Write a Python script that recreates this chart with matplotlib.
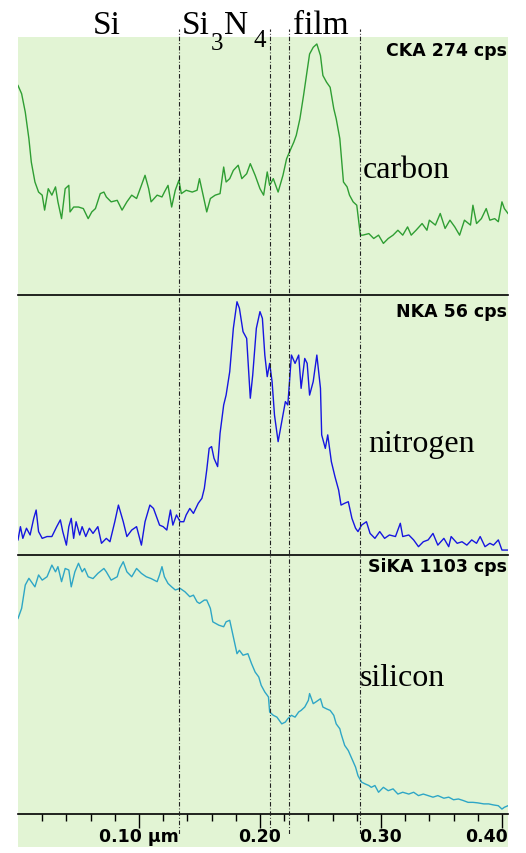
import matplotlib
matplotlib.use("Agg")
import matplotlib.pyplot as plt
from matplotlib.patches import Rectangle
import matplotlib.transforms as mtransforms

# depth (um) and intensity (% of full scale)
c_depth = [0.000, 0.003, 0.006, 0.009, 0.011, 0.014, 0.017, 0.020, 0.022, 0.025,
           0.028, 0.031, 0.033, 0.036, 0.039, 0.042, 0.043, 0.046, 0.050, 0.054,
           0.058, 0.061, 0.064, 0.068, 0.071, 0.073, 0.077, 0.082, 0.086, 0.090,
           0.094, 0.098, 0.102, 0.105, 0.108, 0.110, 0.115, 0.119, 0.121, 0.124,
           0.127, 0.130, 0.133, 0.135, 0.139, 0.144, 0.148, 0.150, 0.153, 0.156,
           0.159, 0.163, 0.167, 0.170, 0.172, 0.175, 0.178, 0.182, 0.185, 0.189,
           0.192, 0.196, 0.200, 0.203, 0.206, 0.208, 0.211, 0.215, 0.219, 0.222,
           0.225, 0.228, 0.230, 0.233, 0.236, 0.239, 0.241, 0.244, 0.247, 0.250,
           0.252, 0.255, 0.258, 0.261, 0.263, 0.266, 0.269, 0.272, 0.274, 0.277,
           0.280, 0.283, 0.285, 0.290, 0.294, 0.298, 0.302, 0.306, 0.310, 0.314,
           0.318, 0.322, 0.325, 0.329, 0.334, 0.338, 0.340, 0.345, 0.349, 0.353,
           0.357, 0.361, 0.365, 0.369, 0.374, 0.376, 0.379, 0.383, 0.387, 0.390,
           0.394, 0.397, 0.400, 0.402, 0.405]
carbon = [81.2, 78.0, 70.9, 60.6, 51.5, 43.8, 39.9, 38.7, 32.9, 41.2,
          38.7, 41.9, 36.1, 29.6, 41.2, 42.5, 32.2, 34.1, 34.1, 33.5,
          29.6, 32.2, 33.5, 39.3, 39.9, 38.0, 36.1, 36.7, 32.9, 36.1,
          38.7, 37.4, 42.5, 46.4, 41.2, 36.1, 38.7, 38.0, 39.9, 42.5,
          34.1, 40.6, 44.5, 39.3, 40.6, 39.9, 40.6, 45.1, 38.7, 32.2,
          37.4, 38.7, 39.3, 49.6, 43.8, 45.1, 48.3, 50.3, 45.1, 47.0,
          50.9, 46.4, 41.2, 38.7, 47.7, 42.5, 45.1, 39.9, 46.4, 52.8,
          56.1, 59.3, 61.9, 68.3, 77.3, 87.0, 93.4, 96.0, 97.3, 92.8,
          85.1, 82.5, 80.5, 72.2, 68.3, 60.6, 43.8, 41.9, 38.7, 36.1,
          34.8, 23.2, 23.2, 23.8, 21.9, 23.2, 20.0, 21.9, 23.2, 25.1,
          23.2, 26.4, 23.2, 25.1, 27.7, 25.1, 29.0, 27.1, 31.6, 25.8,
          29.0, 26.4, 23.2, 29.0, 27.1, 34.8, 27.7, 29.6, 33.5, 29.0,
          29.6, 28.4, 36.1, 33.5, 31.6]

n_depth = [0.000, 0.002, 0.004, 0.007, 0.010, 0.013, 0.015, 0.017, 0.020, 0.024,
           0.028, 0.032, 0.035, 0.037, 0.040, 0.042, 0.044, 0.046, 0.048, 0.051,
           0.053, 0.056, 0.059, 0.062, 0.066, 0.069, 0.073, 0.076, 0.080, 0.083,
           0.087, 0.090, 0.094, 0.098, 0.102, 0.105, 0.109, 0.112, 0.115, 0.117,
           0.120, 0.123, 0.126, 0.128, 0.131, 0.134, 0.137, 0.139, 0.142, 0.145,
           0.149, 0.152, 0.154, 0.156, 0.158, 0.160, 0.162, 0.165, 0.167, 0.170,
           0.172, 0.175, 0.178, 0.181, 0.183, 0.186, 0.189, 0.192, 0.194, 0.197,
           0.200, 0.202, 0.204, 0.206, 0.208, 0.210, 0.212, 0.215, 0.218, 0.221,
           0.223, 0.226, 0.229, 0.232, 0.234, 0.237, 0.239, 0.241, 0.244, 0.247,
           0.250, 0.251, 0.254, 0.256, 0.259, 0.262, 0.265, 0.267, 0.270, 0.273,
           0.276, 0.279, 0.281, 0.284, 0.288, 0.291, 0.295, 0.299, 0.303, 0.307,
           0.312, 0.316, 0.318, 0.323, 0.327, 0.331, 0.335, 0.339, 0.343, 0.347,
           0.352, 0.356, 0.358, 0.363, 0.367, 0.371, 0.375, 0.379, 0.382, 0.386,
           0.390, 0.393, 0.397, 0.400, 0.405]
nitrogen = [5.8, 10.9, 6.4, 10.3, 7.7, 14.1, 17.3, 9.0, 6.4, 7.1,
            7.1, 10.9, 13.5, 9.0, 3.8, 10.9, 14.1, 6.4, 12.8, 7.7,
            10.9, 7.1, 10.3, 8.3, 10.9, 4.5, 6.4, 5.1, 12.8, 19.2,
            12.8, 7.1, 9.6, 10.9, 3.8, 12.8, 19.2, 17.9, 14.1, 11.5,
            10.9, 9.6, 17.3, 11.5, 15.4, 12.8, 12.8, 15.4, 17.9, 16.0,
            19.9, 21.8, 25.6, 32.7, 41.0, 41.7, 37.2, 34.0, 46.8, 57.7,
            61.5, 70.5, 87.2, 97.4, 94.9, 85.9, 83.3, 60.3, 69.2, 87.2,
            93.6, 91.0, 76.9, 68.6, 73.7, 66.7, 53.8, 43.6, 51.3, 59.0,
            57.7, 76.9, 73.7, 76.9, 64.1, 75.6, 73.7, 61.5, 66.7, 76.9,
            64.1, 46.2, 41.0, 46.2, 35.9, 30.1, 25.0, 19.2, 19.9, 20.5,
            14.1, 10.3, 9.0, 11.5, 12.8, 8.3, 6.4, 9.0, 6.4, 7.7,
            7.1, 12.2, 7.1, 7.7, 5.8, 3.2, 5.1, 5.8, 8.3, 3.8,
            6.4, 3.2, 7.1, 4.5, 5.1, 3.8, 5.8, 4.5, 7.1, 3.2,
            4.5, 3.8, 5.8, 1.9, 1.9]

si_depth = [0.000, 0.003, 0.006, 0.009, 0.011, 0.014, 0.017, 0.020, 0.024, 0.028,
            0.031, 0.033, 0.036, 0.039, 0.042, 0.044, 0.047, 0.050, 0.053, 0.055,
            0.058, 0.062, 0.066, 0.071, 0.073, 0.077, 0.082, 0.084, 0.087, 0.090,
            0.094, 0.098, 0.102, 0.106, 0.110, 0.115, 0.117, 0.119, 0.121, 0.124,
            0.127, 0.130, 0.134, 0.138, 0.142, 0.145, 0.148, 0.150, 0.154, 0.156,
            0.159, 0.161, 0.166, 0.170, 0.172, 0.175, 0.178, 0.181, 0.183, 0.186,
            0.190, 0.193, 0.196, 0.199, 0.201, 0.204, 0.207, 0.208, 0.211, 0.214,
            0.218, 0.221, 0.223, 0.226, 0.229, 0.232, 0.234, 0.237, 0.240, 0.241,
            0.244, 0.246, 0.250, 0.252, 0.255, 0.258, 0.261, 0.263, 0.266, 0.267,
            0.270, 0.273, 0.276, 0.279, 0.281, 0.284, 0.287, 0.290, 0.292, 0.295,
            0.298, 0.302, 0.306, 0.310, 0.314, 0.318, 0.323, 0.327, 0.331, 0.335,
            0.339, 0.343, 0.347, 0.352, 0.356, 0.360, 0.364, 0.368, 0.372, 0.376,
            0.380, 0.385, 0.389, 0.393, 0.397, 0.400, 0.402, 0.405]
silicon = [75.5, 79.4, 88.4, 91.0, 89.7, 87.7, 92.3, 90.3, 91.6, 96.1,
           93.5, 95.5, 89.7, 94.8, 94.2, 87.7, 93.5, 96.8, 93.5, 94.8,
           91.6, 90.9, 92.9, 94.8, 93.5, 90.3, 91.6, 94.8, 97.4, 93.5,
           91.6, 94.8, 92.9, 91.6, 90.9, 89.7, 92.3, 95.5, 91.6, 89.0,
           87.7, 86.5, 87.1, 85.8, 83.9, 84.5, 81.9, 81.3, 82.6, 82.6,
           79.4, 74.2, 72.9, 72.3, 74.2, 74.8, 68.4, 61.9, 63.2, 61.3,
           61.9, 58.1, 54.8, 52.9, 49.7, 47.1, 45.2, 39.4, 38.1, 37.4,
           34.8, 35.5, 36.8, 38.1, 37.4, 39.4, 40.0, 41.3, 43.9, 46.5,
           42.6, 43.2, 44.5, 41.3, 40.6, 40.0, 38.1, 34.8, 32.9, 31.0,
           26.5, 24.5, 21.3, 18.1, 14.8, 12.3, 11.6, 11.0, 10.3, 11.0,
           8.4, 10.3, 9.0, 9.7, 7.7, 8.4, 7.7, 8.4, 7.1, 7.7,
           7.1, 6.5, 7.1, 6.1, 6.5, 5.5, 5.8, 5.2, 4.5, 4.5,
           4.3, 3.9, 3.9, 3.5, 3.2, 1.9, 2.6, 3.2]

panel_names = ["CKA 274 cps", "NKA 56 cps", "SiKA 1103 cps"]
element_names = ["carbon", "nitrogen", "silicon"]
colors = ["#2f9e33", "#1616e0", "#2ea6c6"]
boundaries = [0.133, 0.208, 0.224, 0.283]  # layer interfaces (um)
tick_vals = [0.10, 0.20, 0.30, 0.40]
tick_text = ["0.10 \u00b5m", "0.20", "0.30", "0.40"]

W, H = 526, 854
fig = plt.figure(figsize=(W / 100, H / 100), dpi=100)
fig.patch.set_facecolor("white")

# green background box, behind everything
fig.patches.append(Rectangle((18 / W, 1 - 848 / H), 490 / W, 810 / H,
                             transform=fig.transFigure, facecolor="#e2f4d4",
                             edgecolor="none", zorder=-10))

xmax = 0.405
tops = [38, 296, 556]
bots = [296, 556, 815]
series = [(c_depth, carbon), (n_depth, nitrogen), (si_depth, silicon)]
axes = []
for i in range(3):
    ax = fig.add_axes([18 / W, 1 - bots[i] / H, 490 / W, (bots[i] - tops[i]) / H])
    ax.set_facecolor("none")
    ax.plot(series[i][0], series[i][1], color=colors[i], lw=1.0)
    ax.set_xlim(0, xmax)
    ax.set_ylim(0, 100)
    for s in ["top", "left", "right"]:
        ax.spines[s].set_visible(False)
    ax.spines["bottom"].set_linewidth(1.2)
    ax.set_yticks([])
    ax.set_xticks([])
    axes.append(ax)

# ticks on the bottom panel
ax3 = axes[2]
ax3.set_xticks(tick_vals)
ax3.set_xticks([0.02 * k for k in range(1, 21) if k % 5 != 0], minor=True)
ax3.set_xticklabels([])
ax3.tick_params(axis="x", which="major", direction="out", length=10, width=1.0)
ax3.tick_params(axis="x", which="minor", direction="out", length=5, width=1.0)

trans = mtransforms.blended_transform_factory(ax3.transData, fig.transFigure)
for v, t in zip(tick_vals, tick_text):
    if v == tick_vals[-1]:
        ax3.text(xmax, 1 - 837 / H, t, transform=trans, ha="right", va="center",
                 fontsize=12.5, fontweight="bold", family="DejaVu Sans")
    else:
        ax3.text(v, 1 - 837 / H, t, transform=trans, ha="center", va="center",
                 fontsize=12.5, fontweight="bold", family="DejaVu Sans")

# dash-dot interface lines across all panels
ov = fig.add_axes([18 / W, 1 - 835 / H, 490 / W, 805 / H])
ov.set_facecolor("none")
ov.axis("off")
ov.set_xlim(0, xmax)
ov.set_ylim(0, 1)
for b in boundaries:
    ov.axvline(b, color="#222222", lw=0.8, ls=(0, (4, 1.8, 0.8, 1.8)))

# panel labels
lab_y = [51, 312, 567]
for i in range(3):
    fig.text(507 / W, 1 - lab_y[i] / H, panel_names[i], ha="right", va="center",
             fontsize=12.5, fontweight="bold", family="DejaVu Sans")

name_pos = [(363, 178), (368, 452), (360, 686)]
for (x, y), name in zip(name_pos, element_names):
    fig.text(x / W, 1 - y / H, name, ha="left", va="baseline",
             fontsize=23, family="Liberation Serif")

# layer names on top (Si3N4 built from pieces so the subscripts sit low)
serif = dict(va="baseline", ha="left", family="Liberation Serif")
fig.text(93 / W, 1 - 34 / H, "Si", fontsize=24, **serif)
fig.text(182 / W, 1 - 34 / H, "Si", fontsize=24, **serif)
fig.text(211 / W, 1 - 50 / H, "3", fontsize=18, **serif)
fig.text(224 / W, 1 - 34 / H, "N", fontsize=24, **serif)
fig.text(254 / W, 1 - 47 / H, "4", fontsize=18, **serif)
fig.text(293 / W, 1 - 34 / H, "film", fontsize=24, **serif)

plt.savefig("out.png", dpi=100)
